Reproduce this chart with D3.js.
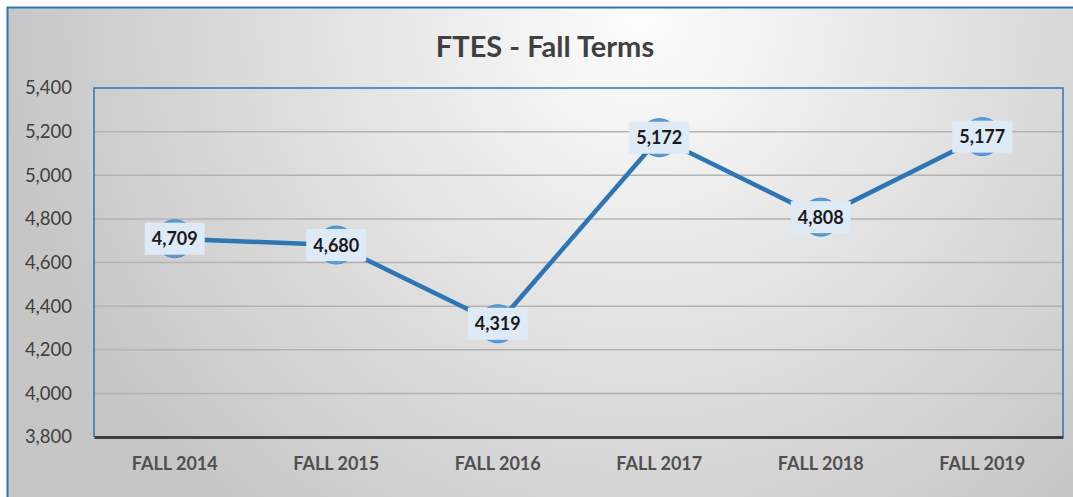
<!DOCTYPE html>
<html>
<head>
<meta charset="utf-8">
<script src="https://cdn.jsdelivr.net/npm/d3@7"></script>
<style>
  body { margin: 0; background: #fff; }
  svg { display: block; }
</style>
</head>
<body>
<div id="chart"></div>
<script>
// chart data
var terms = ["FALL 2014", "FALL 2015", "FALL 2016", "FALL 2017", "FALL 2018", "FALL 2019"];
var ftes = [4709, 4680, 4319, 5172, 4808, 5177];
var yTicks = [3800, 4000, 4200, 4400, 4600, 4800, 5000, 5200, 5400];

var W = 1073, H = 497;
var m = {left: 94, right: 10, top: 88, bottom: 60};
var plotW = 1063 - m.left;
var plotH = 437 - m.top;
var font = "Lato, 'Open Sans', sans-serif";

var svg = d3.select("#chart")
  .append("svg")
  .attr("width", W)
  .attr("height", H);

var defs = svg.append("defs");
var bg = defs.append("radialGradient")
  .attr("id", "bg")
  .attr("gradientUnits", "userSpaceOnUse")
  .attr("cx", 640).attr("cy", 20).attr("r", 640);
bg.append("stop").attr("offset", "0").attr("stop-color", "#fdfdfd");
bg.append("stop").attr("offset", "1").attr("stop-color", "#c6c6c6");

// outer chart frame
svg.append("rect")
  .attr("x", 7.5).attr("y", 7.5)
  .attr("width", W + 20).attr("height", H + 20)
  .attr("fill", "url(#bg)")
  .attr("stroke", "#2e75b6")
  .attr("stroke-width", 2);

svg.append("text")
  .attr("x", 545).attr("y", 57)
  .attr("text-anchor", "middle")
  .attr("font-family", font)
  .attr("font-weight", "bold")
  .attr("font-size", 29)
  .attr("fill", "#404040")
  .text("FTES - Fall Terms");

var g = svg.append("g")
  .attr("transform", "translate(" + m.left + "," + m.top + ")");

var x = d3.scaleBand().domain(terms).range([0, plotW]);
var y = d3.scaleLinear().domain([3800, 5400]).range([plotH, 0]);

// gridlines
g.selectAll(".grid")
  .data(yTicks.slice(1, -1))
  .enter()
  .append("line")
  .attr("x1", 0).attr("x2", plotW)
  .attr("y1", function(d) { return y(d); })
  .attr("y2", function(d) { return y(d); })
  .attr("stroke", "#b3b3b3")
  .attr("stroke-width", 1.5);

// plot area border (top, left, right)
g.append("path")
  .attr("d", "M0," + plotH + "V0H" + plotW + "V" + plotH)
  .attr("fill", "none")
  .attr("stroke", "#2e75b6")
  .attr("stroke-width", 1.5);

// y axis labels
var yAxis = d3.axisLeft(y)
  .tickValues(yTicks)
  .tickFormat(d3.format(","))
  .tickSize(0)
  .tickPadding(22);
g.append("g")
  .call(yAxis)
  .call(function(a) {
    a.select(".domain").remove();
    a.selectAll("text")
      .attr("font-family", font)
      .attr("font-size", 18.5)
      .attr("fill", "#404040");
  });

// x axis
var xAxis = d3.axisBottom(x).tickSize(0).tickPadding(20);
g.append("g")
  .attr("transform", "translate(0," + plotH + ")")
  .call(xAxis)
  .call(function(a) {
    a.select(".domain")
      .attr("stroke", "#404040")
      .attr("stroke-width", 3);
    a.selectAll("text")
      .attr("font-family", font)
      .attr("font-weight", "bold")
      .attr("font-size", 18)
      .attr("fill", "#505050");
  });

var pts = terms.map(function(t, i) {
  return {term: t, value: ftes[i]};
});

var line = d3.line()
  .x(function(d) { return x(d.term) + x.bandwidth() / 2; })
  .y(function(d) { return y(d.value); });

g.append("path")
  .datum(pts)
  .attr("d", line)
  .attr("fill", "none")
  .attr("stroke", "#2e75b6")
  .attr("stroke-width", 4.5)
  .attr("stroke-linejoin", "round");

g.selectAll(".dot")
  .data(pts)
  .enter()
  .append("circle")
  .attr("cx", function(d) { return x(d.term) + x.bandwidth() / 2; })
  .attr("cy", function(d) { return y(d.value); })
  .attr("r", 19)
  .attr("fill", "#5b9bd5")
  .attr("stroke", "#4a8ccc")
  .attr("stroke-width", 1);

var lab = g.selectAll(".lab")
  .data(pts)
  .enter()
  .append("g")
  .attr("transform", function(d) {
    return "translate(" + (x(d.term) + x.bandwidth() / 2) + "," + y(d.value) + ")";
  });

lab.append("rect")
  .attr("x", -30).attr("y", -16)
  .attr("width", 60).attr("height", 32)
  .attr("fill", "#deeaf6");

lab.append("text")
  .attr("text-anchor", "middle")
  .attr("dy", "0.36em")
  .attr("font-family", font)
  .attr("font-weight", "bold")
  .attr("font-size", 18)
  .attr("fill", "#1a1a1a")
  .text(function(d) { return d3.format(",")(d.value); });
</script>
</body>
</html>
